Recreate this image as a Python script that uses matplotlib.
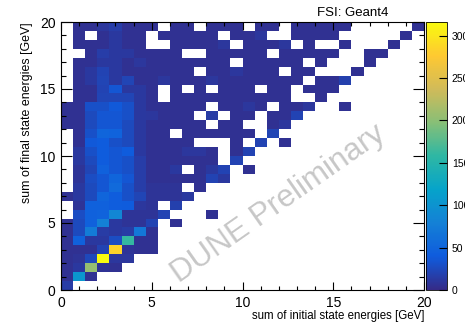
import numpy as np
import matplotlib
matplotlib.use("Agg")
import matplotlib.pyplot as plt
from matplotlib.colors import LinearSegmentedColormap, Normalize
from matplotlib.ticker import MultipleLocator

plt.rcParams['font.family'] = ['Liberation Sans', 'DejaVu Sans']

# ---- data: 30x30 bins, 0-20 GeV on both axes; row index = y bin (bottom first)
x_range = [0, 20]
y_range = [0, 20]
n_bins = 30
counts = [
    [14,0,0,0,0,0,0,0,0,0,0,0,0,0,0,0,0,0,0,0,0,0,0,0,0,0,0,0,0,0],
    [5,105,6,0,0,0,0,0,0,0,0,0,0,0,0,0,0,0,0,0,0,0,0,0,0,0,0,0,0,0],
    [5,12,205,7,6,0,0,0,0,0,0,0,0,0,0,0,0,0,0,0,0,0,0,0,0,0,0,0,0,0],
    [5,8,24,316,11,11,0,0,0,0,0,0,0,0,0,0,0,0,0,0,0,0,0,0,0,0,0,0,0,0],
    [5,6,6,20,285,8,6,6,0,0,0,0,0,0,0,0,0,0,0,0,0,0,0,0,0,0,0,0,0,0],
    [5,45,12,12,28,160,6,6,0,0,0,0,0,0,0,0,0,0,0,0,0,0,0,0,0,0,0,0,0,0],
    [5,25,75,14,12,14,70,6,0,0,0,0,0,0,0,0,0,0,0,0,0,0,0,0,0,0,0,0,0,0],
    [5,25,45,80,12,8,8,20,0,5,0,0,0,0,0,0,0,0,0,0,0,0,0,0,0,0,0,0,0,0],
    [0,28,45,48,85,8,8,8,20,0,0,0,5,0,0,0,0,0,0,0,0,0,0,0,0,0,0,0,0,0],
    [0,8,45,45,42,40,10,8,0,18,0,0,0,0,0,0,0,0,0,0,0,0,0,0,0,0,0,0,0,0],
    [5,12,25,50,42,30,22,8,8,8,12,0,0,0,0,0,0,0,0,0,0,0,0,0,0,0,0,0,0,0],
    [0,12,25,35,55,30,15,8,8,8,0,6,0,0,0,0,0,0,0,0,0,0,0,0,0,0,0,0,0,0],
    [0,8,28,35,50,35,15,6,6,6,6,6,20,12,0,0,0,0,0,0,0,0,0,0,0,0,0,0,0,0],
    [0,8,22,45,35,30,15,6,6,12,0,6,12,20,0,5,0,0,0,0,0,0,0,0,0,0,0,0,0,0],
    [0,12,25,40,35,30,15,6,6,6,6,6,6,0,20,0,0,0,0,0,0,0,0,0,0,0,0,0,0,0],
    [0,12,30,40,35,40,12,6,6,6,10,10,6,0,6,20,0,0,0,0,0,0,0,0,0,0,0,0,0,0],
    [0,6,38,40,30,25,12,6,6,6,6,0,0,0,6,0,20,0,6,0,0,0,0,0,0,0,0,0,0,0],
    [0,6,30,50,48,25,12,6,6,0,6,6,6,6,6,6,0,22,0,0,0,0,0,0,0,0,0,0,0,0],
    [5,6,25,35,35,25,12,6,6,6,6,6,0,6,6,0,0,6,10,0,0,0,0,0,0,0,0,0,0,0],
    [5,6,25,35,35,30,12,10,6,6,6,0,14,0,6,6,0,6,6,20,0,0,0,0,0,0,0,0,0,0],
    [5,6,30,30,38,30,12,6,6,6,6,6,0,6,6,10,6,0,6,6,10,0,0,6,0,0,0,0,0,0],
    [0,6,6,22,22,22,12,6,0,6,6,6,6,6,6,6,6,6,6,0,0,6,0,0,0,0,0,0,0,0],
    [0,6,6,20,35,12,12,6,0,6,0,6,0,6,6,6,0,6,6,0,6,6,6,0,0,0,0,0,0,0],
    [0,6,12,22,12,22,6,6,10,6,6,6,10,6,6,6,6,6,6,6,0,6,6,18,0,0,0,0,0,0],
    [0,6,12,20,12,6,6,6,6,6,6,0,6,6,10,6,6,6,0,6,6,0,0,0,6,0,0,0,0,0],
    [0,6,6,12,12,6,10,6,6,6,6,6,6,6,0,6,6,6,6,6,0,6,0,0,0,6,0,0,0,0],
    [0,0,6,15,12,12,6,6,6,6,0,0,6,6,6,6,6,0,6,6,6,6,6,0,0,6,6,0,0,0],
    [0,6,6,6,12,6,6,0,0,6,6,6,6,10,0,6,6,6,10,0,6,0,0,6,0,0,0,6,0,0],
    [0,6,0,6,12,6,6,0,6,6,6,6,6,0,6,6,10,0,0,6,6,6,6,0,0,0,0,0,6,0],
    [0,6,6,10,15,6,6,6,0,6,6,0,6,6,6,0,6,6,0,6,6,6,6,6,0,0,0,0,0,6],
]
z_max = 316
cbar_ticks = [0, 50, 100, 150, 200, 250, 300]
axis_ticks = [0, 5, 10, 15, 20]

# ---- ROOT kBird palette
stops = [0.0, 0.125, 0.25, 0.375, 0.5, 0.625, 0.75, 0.875, 1.0]
red = [0.2082, 0.0592, 0.0780, 0.0232, 0.1802, 0.5301, 0.8186, 0.9956, 0.9764]
green = [0.1664, 0.3599, 0.5041, 0.6419, 0.7178, 0.7492, 0.7328, 0.7862, 0.9832]
blue = [0.5293, 0.8684, 0.8385, 0.7914, 0.6425, 0.4662, 0.3499, 0.1968, 0.0539]
bird = LinearSegmentedColormap.from_list(
    "bird", [(s, (r, g, b)) for s, r, g, b in zip(stops, red, green, blue)], N=255)
bird.set_bad("white")

Z = np.ma.masked_equal(np.array(counts, dtype=float), 0)
xe = np.linspace(x_range[0], x_range[1], n_bins + 1)
ye = np.linspace(y_range[0], y_range[1], n_bins + 1)

W, H = 465, 322
fig = plt.figure(figsize=(W / 100, H / 100), dpi=100)
ax = fig.add_axes([61 / W, (H - 290) / H, 363 / W, 268 / H])
cax = fig.add_axes([426 / W, (H - 290) / H, 21 / W, 268 / H])

norm = Normalize(vmin=0, vmax=z_max)
mesh = ax.pcolormesh(xe, ye, Z, cmap=bird, norm=norm, shading="flat")
ax.set_xlim(x_range)
ax.set_ylim(y_range)

ax.set_xticks(axis_ticks)
ax.set_yticks(axis_ticks)
ax.xaxis.set_minor_locator(MultipleLocator(1))
ax.yaxis.set_minor_locator(MultipleLocator(1))
ax.tick_params(axis="x", which="major", direction="in", top=True, length=5.8, width=0.8,
               labelsize=10, pad=4)
ax.tick_params(axis="x", which="minor", direction="in", top=True, length=2.9, width=0.8)
ax.tick_params(axis="y", which="major", direction="in", right=True, length=7.9, width=0.8,
               labelsize=10, pad=4)
ax.tick_params(axis="y", which="minor", direction="in", right=True, length=3.9, width=0.8)
for s in ax.spines.values():
    s.set_linewidth(0.8)

cb = fig.colorbar(mesh, cax=cax, ticks=cbar_ticks)
cb.outline.set_linewidth(0.6)
cax.tick_params(direction="in", length=6, width=0.8, labelsize=7.5, pad=3.5)
cax.minorticks_off()

fig.text(424 / W, 3 / H, "sum of initial state energies [GeV]", ha="right",
         va="baseline", fontsize=8.3)
fig.text(27 / W, 1 - 22 / H, "sum of final state energies [GeV]", rotation=90,
         ha="center", va="top", fontsize=8.9)
fig.text(388 / W, 1 - 13.5 / H, "FSI: Geant4", ha="right", va="center", fontsize=9.5)

ax.text(0.60, 0.32, "DUNE Preliminary", transform=ax.transAxes, rotation=35,
        ha="center", va="center", rotation_mode="anchor", fontsize=22.5,
        color=(0.78, 0.78, 0.78), zorder=10)

fig.savefig("out.png", dpi=100)
